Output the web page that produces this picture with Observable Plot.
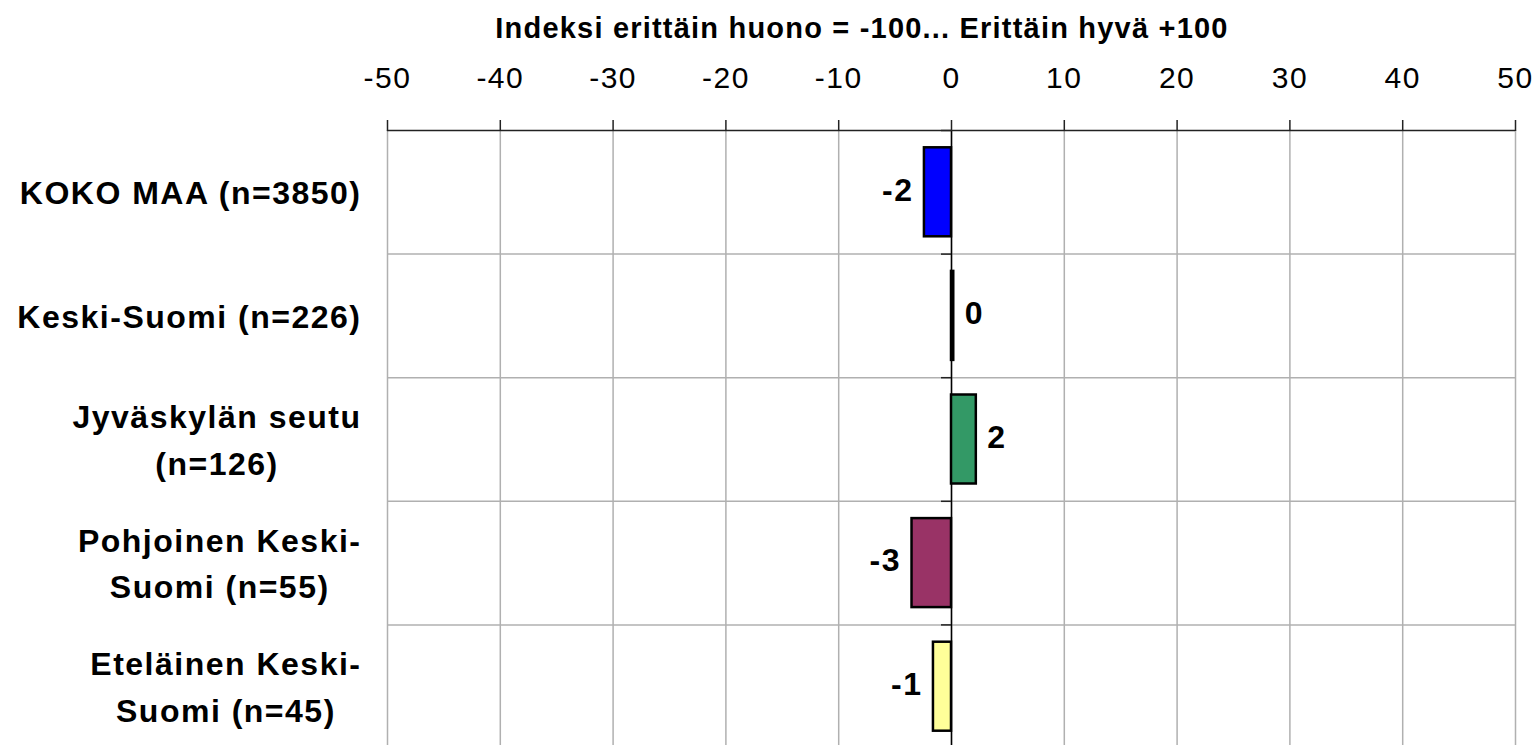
<!DOCTYPE html>
<html><head><meta charset="utf-8">
<script src="https://cdn.jsdelivr.net/npm/d3@7"></script>
<script src="https://cdn.jsdelivr.net/npm/@observablehq/plot@0.6"></script>
<style>
html,body{margin:0;padding:0;overflow:hidden;background:#fff;}
#title{width:1537px;height:50px;box-sizing:border-box;padding-left:187px;text-align:center;font:bold 29px "Liberation Sans",Arial,sans-serif;line-height:56px;letter-spacing:1.2px;color:#000;white-space:nowrap;}
#chart svg text{letter-spacing:1.5px;}
#chart g[aria-label="x-axis tick label"] text{letter-spacing:1.5px;}
</style></head><body>
<div id="title"></div>
<div id="chart"></div>
<script>
const titleText = "Indeksi erittäin huono = -100... Erittäin hyvä +100";
const categories = ["KOKO MAA (n=3850)", "Keski-Suomi (n=226)", "Jyväskylän seutu\n(n=126)", "Pohjoinen Keski-\nSuomi (n=55)", "Eteläinen Keski-\nSuomi (n=45)"];
const values = [-2.4, 0.2, 2.2, -3.5, -1.6];
const valueLabels = ["-2", "0", "2", "-3", "-1"];
const colors = ["#0000ff", "#000000", "#339966", "#993366", "#ffff99"];
const xTicks = [-50, -40, -30, -20, -10, 0, 10, 20, 30, 40, 50];

document.getElementById("title").textContent = titleText;

const data = categories.map((c, i) => ({i, category: c, value: values[i], label: valueLabels[i], color: colors[i]}));
const bounds = categories.map((_, i) => i + 0.5);
const allBounds = [-0.5, ...bounds];
const font = '"Liberation Sans", Arial, sans-serif';

const chart = Plot.plot({
  width: 1537, height: 698,
  marginTop: 80, marginLeft: 387, marginRight: 22, marginBottom: 0,
  style: {fontFamily: font, color: "#000", background: "#fff", overflow: "visible"},
  x: {domain: [-50, 50]},
  y: {domain: [-0.5, categories.length - 0.5], reverse: true, axis: null},
  color: {type: "identity"},
  marks: [
    Plot.gridX(xTicks, {stroke: "#b0b0b0", strokeOpacity: 1, strokeWidth: 1.5}),
    Plot.ruleY(bounds, {stroke: "#b0b0b0", strokeWidth: 1.5}),
    Plot.ruleX([0], {stroke: "#000", strokeWidth: 1.5}),
    Plot.ruleY(allBounds, {x1: 0, x2: 0, insetLeft: -10, stroke: "#222", strokeWidth: 1.5}),
    Plot.ruleY([-0.5], {stroke: "#222", strokeWidth: 1.5}),
    Plot.axisX({anchor: "top", ticks: xTicks, tickFormat: d => String(d), tickSize: 11, tickPadding: 32, fontSize: 30, label: null, stroke: "#222", strokeWidth: 1.5}),
    Plot.rect(data, {x1: 0, x2: "value", y1: d => d.i - 0.36, y2: d => d.i + 0.36, fill: "color", stroke: "#000", strokeWidth: 2.5}),
    Plot.text(data.filter(d => d.value < 0), {x: "value", y: "i", text: "label", textAnchor: "end", dx: -11, dy: -2, fontSize: 32, fontWeight: "bold"}),
    Plot.text(data.filter(d => d.value >= 0), {x: "value", y: "i", text: "label", textAnchor: "start", dx: 11, dy: -2, fontSize: 32, fontWeight: "bold"}),
    Plot.text(data, {frameAnchor: "left", y: "i", text: "category", textAnchor: "end", dx: -26, dy: -3, lineAnchor: "middle", lineHeight: 1.45, fontSize: 32, fontWeight: "bold"})
  ]
});
document.getElementById("chart").appendChild(chart);

// center multi-line category labels within their own box (right edge kept at the axis side)
chart.querySelectorAll("text").forEach(t => {
  const spans = t.querySelectorAll("tspan");
  if (spans.length > 1) {
    let maxW = 0;
    spans.forEach(s => { maxW = Math.max(maxW, s.getComputedTextLength()); });
    t.setAttribute("text-anchor", "middle");
    const tr = t.getAttribute("transform") || "";
    t.setAttribute("transform", `translate(${-maxW / 2},0) ${tr}`);
  }
});
</script>
</body></html>
